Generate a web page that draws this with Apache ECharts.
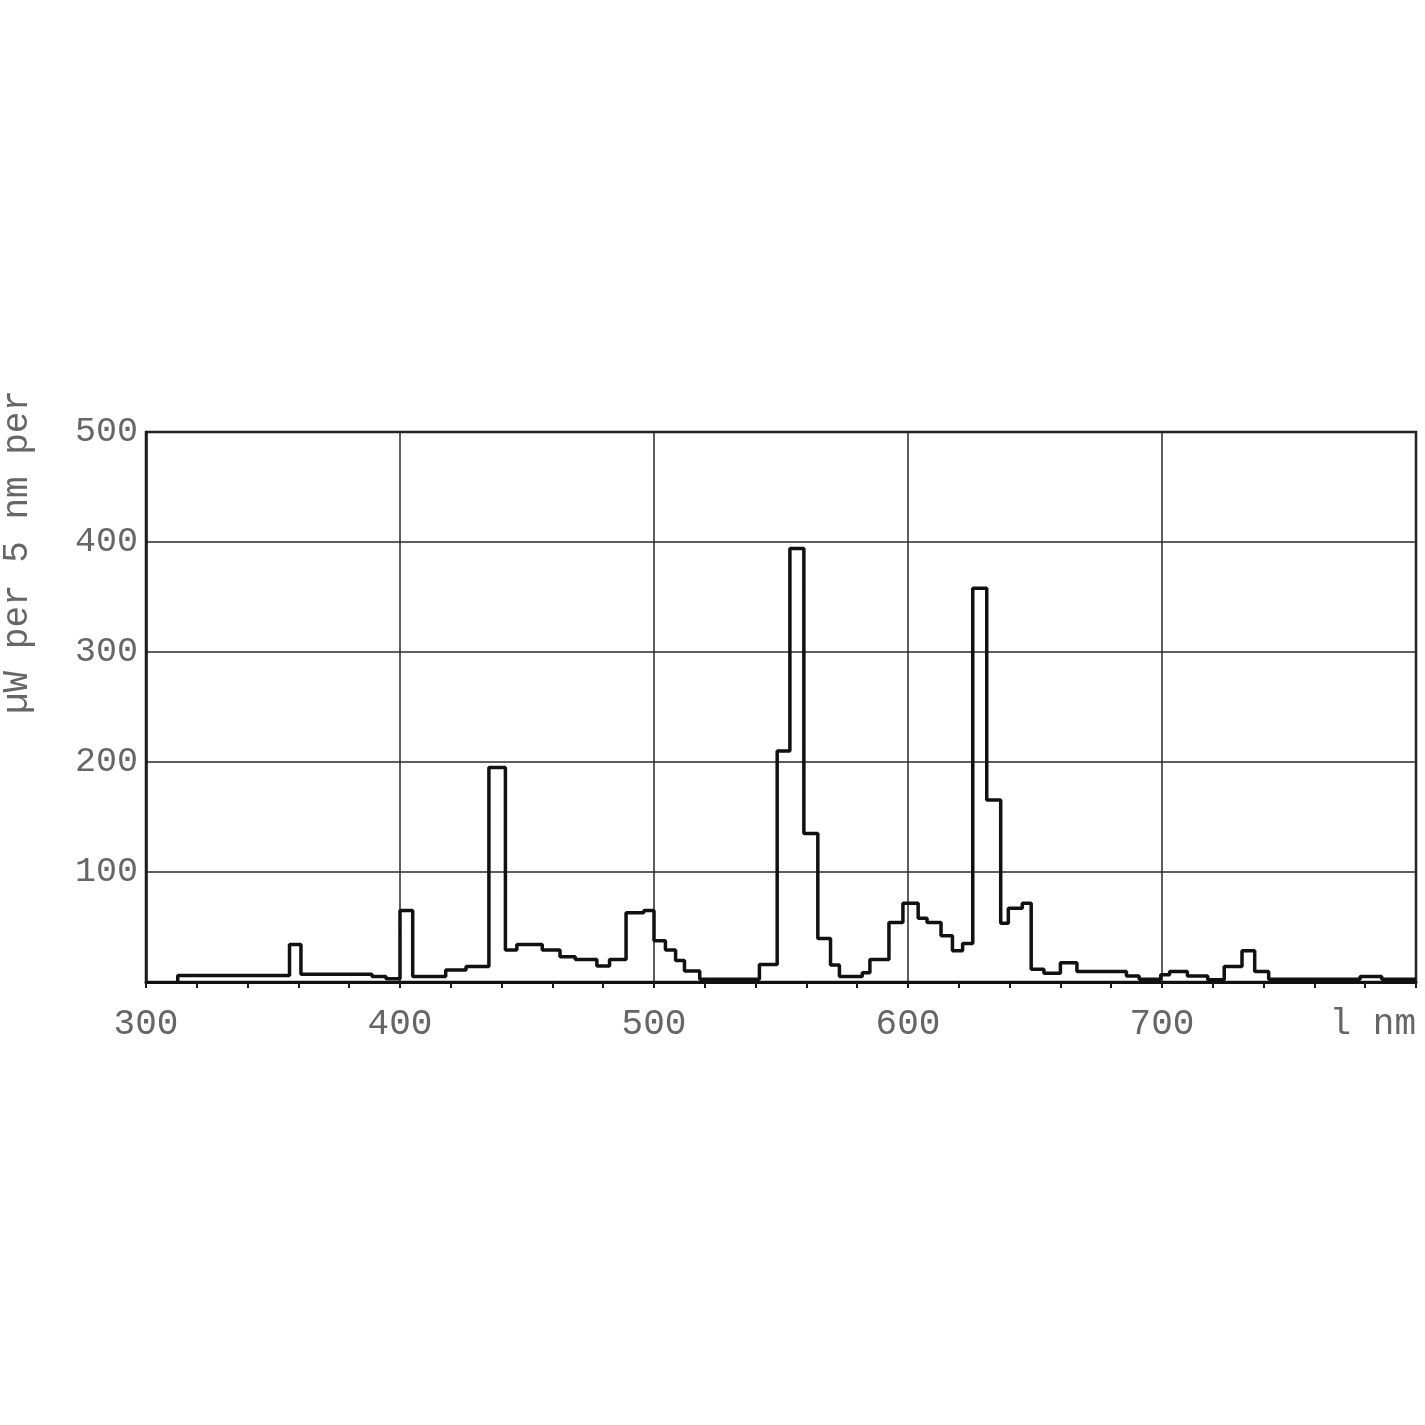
<!DOCTYPE html>
<html>
<head>
<meta charset="utf-8">
<script src="https://cdn.jsdelivr.net/npm/echarts@6/dist/echarts.min.js"></script>
<style>
html,body{margin:0;padding:0;background:#fff;}
#chart{width:1425px;height:1425px;}
</style>
</head>
<body>
<div id="chart"></div>
<script>
// Bin edges (nm); value of each bin holds from edge i to edge i+1
const binEdges = [312.5, 356.5, 361, 389, 394.5, 400, 405, 418, 426, 435, 441.5, 446, 456, 463, 469, 477.5, 482.5, 489, 496, 500, 504.5, 508.5, 512, 518, 541.5, 548.5, 553.5, 559, 564.5, 569.5, 573, 582, 585, 592.5, 598, 604, 607.5, 613, 617.5, 621.5, 625.5, 631, 636.5, 639.5, 645, 648.5, 653.5, 660, 666.5, 686, 691, 699.5, 703, 710, 718, 724.5, 731.5, 736.5, 742, 778, 786.5, 800];
// µW per 5 nm per bin
const binValues = [6, 34, 7, 5, 3, 65, 5, 11, 14, 195, 29, 34, 29, 23, 20.5, 14.5, 20.5, 63, 65, 37.5, 29, 19.5, 10, 2.5, 16, 210, 394, 135, 39.5, 15.5, 5, 8.5, 20.5, 54, 71.5, 58, 54, 42, 28.5, 35, 358, 165.5, 53.5, 67, 71.5, 11.5, 8, 17.5, 9.5, 5.5, 2.5, 6.5, 9.5, 5.5, 2, 14, 28.5, 9.5, 2.5, 5, 2.5];
const xTickLabels = {300: '300', 400: '400', 500: '500', 600: '600', 700: '700', 800: 'l nm'};
const yTickLabels = {100: '100', 200: '200', 300: '300', 400: '400', 500: '500'};
const yAxisTitle = 'µW per 5 nm per';

const pts = [[binEdges[0], 0]];
for (let i = 0; i < binValues.length; i++) pts.push([binEdges[i], binValues[i]]);
pts.push([binEdges[binEdges.length - 1], binValues[binValues.length - 1]]);

const FONT = '"Liberation Mono", "DejaVu Sans Mono", monospace';
const chart = echarts.init(document.getElementById('chart'));
chart.setOption({
  animation: false,
  backgroundColor: '#fff',
  grid: {left: 146, right: 9, top: 432, bottom: 443, show: true, borderColor: '#1a1a1a', borderWidth: 2.5, backgroundColor: 'transparent'},
  xAxis: {
    type: 'value', min: 300, max: 800, interval: 100,
    axisLine: {show: true, onZero: false, lineStyle: {color: '#111', width: 3}},
    axisTick: {show: true, length: 6, inside: false, lineStyle: {color: '#1a1a1a', width: 2}},
    minorTick: {show: true, splitNumber: 5, length: 6, lineStyle: {color: '#1a1a1a', width: 2}},
    splitLine: {show: true, lineStyle: {color: '#2a2a2a', width: 1.5}},
    axisLabel: {
      margin: 24, color: '#666', fontFamily: FONT, fontSize: 36,
      alignMaxLabel: 'right',
      formatter: v => xTickLabels[v] !== undefined ? xTickLabels[v] : ''
    }
  },
  yAxis: {
    type: 'value', min: 0, max: 500, interval: 100,
    axisLine: {show: true, lineStyle: {color: '#1a1a1a', width: 2.5}},
    axisTick: {show: false},
    splitLine: {show: true, lineStyle: {color: '#2a2a2a', width: 1.5}},
    axisLabel: {
      margin: 8, color: '#666', fontFamily: FONT, fontSize: 35, padding: [8, 0, 0, 0],
      formatter: v => yTickLabels[v] !== undefined ? yTickLabels[v] : ''
    }
  },
  graphic: [{
    type: 'text', x: 17, y: 552, rotation: Math.PI / 2,
    style: {text: yAxisTitle, fill: '#666', font: '36px ' + FONT, textAlign: 'center', textVerticalAlign: 'middle'}
  }],
  series: [{
    type: 'line', step: 'end', data: pts, showSymbol: false, symbol: 'none',
    lineStyle: {color: '#111', width: 3.5}, z: 5
  }]
});
</script>
</body>
</html>
